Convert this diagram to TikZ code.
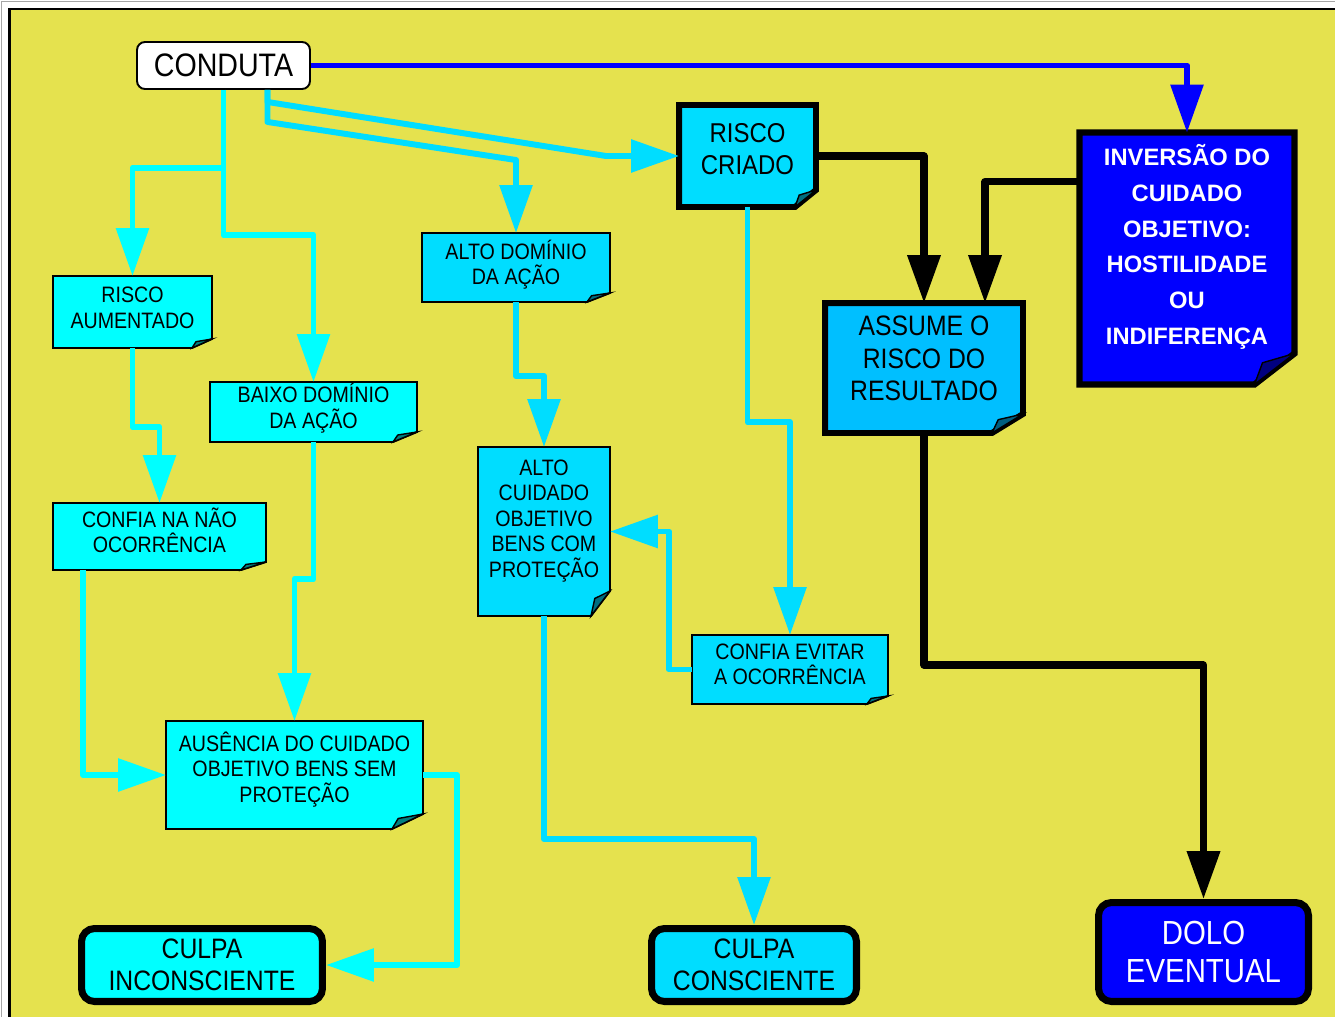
\documentclass[tikz,border=0pt]{standalone}
\usepackage{fontspec}
\setmainfont{Liberation Sans}[FakeStretch=0.88]
\newfontfamily\largafont{Liberation Sans}
\usetikzlibrary{arrows.meta}
\usetikzlibrary{calc}
\usetikzlibrary{backgrounds}

\definecolor{fundo}{HTML}{E5E24E}
\definecolor{ciano}{HTML}{00FFFF}
\definecolor{cianob}{HTML}{00DDFF}
\definecolor{celeste}{HTML}{00BFFF}
\definecolor{azul}{HTML}{0000FF}

% note box with a folded corner: [line width]{node}{fill}{fold x}{fold y}
\newcommand{\notebox}[5][1.1pt]{%
  \path[draw=black, line width=#1, fill=#3] (#2.north west) -- (#2.north east)
    -- ($(#2.south east)+(0,-#5)$) -- ($(#2.south east)+(-#4,0)$) -- (#2.south west) -- cycle;
  \path[draw=black, line width=0.8pt, fill=#3!50!black] ($(#2.south east)+(-#4,0)$)
    -- ($(#2.south east)+(0,-#5)$) -- ($(#2.south east)+(-0.8*#4,-0.7*#5)$) -- cycle;}

\begin{document}
\begin{tikzpicture}[x=0.02cm, y=-0.02cm,
startnode/.style={rectangle, rounded corners=0.16cm, draw=black, line width=1.1pt, fill=white, minimum width=3.46cm, minimum height=0.94cm, inner sep=0, font=\fontsize{18.5}{22}\selectfont},
notenode/.style={inner sep=0, outer sep=0, align=center, font=\fontsize{12.7}{14.5}\selectfont},
bignote/.style={notenode, font=\fontsize{15.5}{18.3}\selectfont},
endnode/.style={rectangle, rounded corners=0.26cm, draw=black, line width=4pt, inner sep=0, align=center, font=\fontsize{16}{18.2}\selectfont},
lift/.style={execute at end node={\rule[-#1]{0pt}{0pt}}},
seta/.style={-{Triangle[length=0.96cm, width=0.64cm]}, line width=3.4pt, line join=round},
]
\useasboundingbox (0,0) rectangle (1335,1017);

\node[startnode] (conduta) at (223.5,65.5) {CONDUTA};

\node[notenode, minimum width=3.18cm, minimum height=1.44cm, lift=5pt] (aument) at (132.5,312) {RISCO\\AUMENTADO};
\node[notenode, minimum width=4.14cm, minimum height=1.2cm, lift=7pt] (baixo) at (313.5,412) {BAIXO DOMÍNIO\\DA AÇÃO};
\node[notenode, minimum width=4.26cm, minimum height=1.34cm, lift=7pt] (confiana) at (159.5,536.5) {CONFIA NA NÃO\\OCORRÊNCIA};
\node[notenode, minimum width=5.14cm, minimum height=2.16cm, lift=9pt] (ausencia) at (294.5,775) {AUSÊNCIA DO CUIDADO\\OBJETIVO BENS SEM\\PROTEÇÃO};
\node[notenode, minimum width=3.76cm, minimum height=1.38cm, lift=6pt] (altodom) at (516,267.5) {ALTO DOMÍNIO\\DA AÇÃO};
\node[notenode, minimum width=2.64cm, minimum height=3.38cm, lift=15pt] (altocuid) at (544,531.5) {ALTO\\CUIDADO\\OBJETIVO\\BENS COM\\PROTEÇÃO};
\node[bignote, minimum width=2.74cm, minimum height=2.04cm, lift=8pt] (criado) at (747.5,156) {RISCO\\CRIADO};
\node[notenode, minimum width=3.92cm, minimum height=1.38cm, lift=6pt] (evitar) at (790,669.5) {CONFIA EVITAR\\A OCORRÊNCIA};
\node[bignote, minimum width=3.96cm, minimum height=2.6cm, lift=11pt, font=\fontsize{16}{18.4}\selectfont] (assume) at (924,368) {ASSUME O\\RISCO DO\\RESULTADO};
\node[notenode, minimum width=4.3cm, minimum height=5.04cm, lift=16pt, text=white, font={\largafont\bfseries\fontsize{13.5}{20.4}\selectfont}] (inversao) at (1187,258.5) {INVERSÃO DO\\CUIDADO\\OBJETIVO:\\HOSTILIDADE\\OU\\INDIFERENÇA};

\node[endnode, fill=ciano, minimum width=4.82cm, minimum height=1.46cm] (inconsc) at (202,965) {CULPA\\INCONSCIENTE};
\node[endnode, fill=cianob, minimum width=4.1cm, minimum height=1.46cm] (consc) at (754,965) {CULPA\\CONSCIENTE};
\node[endnode, fill=azul, text=white, minimum width=4.2cm, minimum height=1.98cm, font=\fontsize{19}{21.5}\selectfont] (dolo) at (1203.5,952) {DOLO\\EVENTUAL};

\begin{scope}[on background layer]
\fill[white] (0,0) rectangle (1335,1017);
\fill[fundo] (10,10) rectangle (1335,1017);
\draw[gray!70, line width=1pt] (1.5,1017) -- (1.5,1.5) -- (1335,1.5);
\draw[black, line width=1.3pt] (9.5,1017) -- (9.5,9) -- (1335,9);
\notebox{aument}{ciano}{20}{9}
\notebox{baixo}{ciano}{24}{10}
\notebox{confiana}{ciano}{25}{8}
\notebox{ausencia}{ciano}{31}{15}
\notebox{altodom}{cianob}{23}{9}
\notebox{altocuid}{cianob}{19}{25}
\notebox[3.4pt]{criado}{cianob}{21}{17}
\notebox{evitar}{cianob}{21}{8}
\notebox[3.4pt]{assume}{celeste}{31}{19}
\notebox[3.6pt]{inversao}{azul}{40}{31}
\end{scope}

% left branch
\draw[seta, ciano] (conduta.south) -- ++(0,78) -| (aument.north);
\draw[seta, ciano] (conduta.south) -- ++(0,145) -| (baixo.north);
\draw[seta, ciano] (aument.south) -- ++(0,79) -| (confiana.north);
\draw[seta, ciano] (baixo.south) -- ++(0,137) -| (ausencia.north);
\draw[seta, ciano] ($(confiana.south west)+(30,0)$) |- (ausencia.west);
\draw[seta, ciano] (ausencia.east) -- ++(34,0) |- (inconsc.east);
% middle branch
\draw[seta, cianob] ($(conduta.south)+(44,0)$) -- ++(0,32) -- ($(altodom.north)+(0,-73)$) -- (altodom.north);
\draw[seta, cianob] ($(conduta.south)+(44,0)$) -- ++(0,12) -- ($(criado.west)+(-73,0)$) -- (criado.west);
\draw[seta, cianob] (altodom.south) -- ++(0,74) -| (altocuid.north);
\draw[seta, cianob] (criado.south) -- ++(0,215) -| (evitar.north);
\draw[seta, cianob] (evitar.west) -- ++(-23,0) |- (altocuid.east);
\draw[seta, cianob] (altocuid.south) -- ++(0,223) -| (consc.north);
% right branch
\draw[seta, azul] (conduta.east) -| (inversao.north);
\draw[seta, black, line width=4pt] (criado.east) -| (assume.north);
\draw[seta, black, line width=4pt] ($(inversao.north west)+(0,49)$) -| ($(assume.north)+(61,0)$);
\draw[seta, black, line width=4pt] (assume.south) -- ++(0,232) -| (dolo.north);
\end{tikzpicture}
\end{document}
